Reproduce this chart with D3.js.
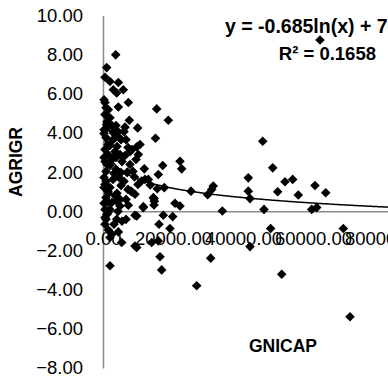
<!DOCTYPE html>
<html>
<head>
<meta charset="utf-8">
<script src="https://cdn.jsdelivr.net/npm/d3@7"></script>
<style>
  body { margin: 0; background: #fff; }
  svg { display: block; }
</style>
</head>
<body>
<svg id="chart"></svg>
<script>
// scatter values (GNICAP, AGRIGR), same order
const gnicap = [
    3630, 1050, 570, 2000, 4380, 2950, 5800, 3900, 570, 7240, 4380, 1520, 15340, 18660, 7520, 1050,
    9900, 15000, 9630, 10090, 17060, 22000, 22480, 11800, 15800, 12940, 8000, 17500, 25140, 14370,
    14660, 20570, 22000, 11500, 9140, 17230, 1520, 1520, 8200, 3900, 4860, 7240, 11520, 14570, 14570,
    1140, 570, 3900, 6570, 9630, 19910, 16000, 19140, 1520, 4380, 2000, 5340, 9140, 9630, 13910, 15800,
    16290, 16770, 2000, 26770, 30770, 42000, 51060, 70570, 34090, 46000, 59630, 61060, 47900, 68660,
    29900, 41510, 42000, 49900, 55800, 63630, 45630, 48490, 41510, 52000, 54200, 60570, 31500, 31060,
    62000, 12000,
    290, 860, 570, 1140, 290, 860, 1430, 570, 290, 1140, 860, 290, 570, 1430, 860, 290, 570, 1140,
    860, 290, 1430, 570, 860, 1140, 290, 1430, 570,
    2000, 2570, 3140, 2860, 2000, 3430, 2570, 2000, 3140, 2860, 2000, 3430, 2570, 2000, 3140, 2570,
    3430, 2860,
    3710, 4290, 5140, 4000, 4860, 5430, 3710, 4570, 5140, 4000, 4860, 4290, 5430, 4570, 3710, 5140,
    6000, 6570, 7140, 6290, 7710, 6860, 6000, 7140, 6570, 7710, 6290,
    8290, 9430, 8570, 10000, 9140, 10570,
    7000, 9000, 11000, 13500, 15500
];
const agrigr = [
    7.99, 7.34, 6.85, 6.63, 6.58, 6.21, 6.21, 6.04, 5.56, 5.56, 5.33, 5.19, 5.23, 4.65, 4.65, 4.43,
    4.26, 3.73, 3.29, 2.90, 2.34, 2.56, 2.17, 2.17, 1.88, 1.63, 1.03, 1.21, 1.03, 0.70,
    0.52, 0.41, 0.27, 0.19, -0.20, -0.20, -0.04, 0.92, 1.00, 0.52, 0.27, 0.31, 0.24, 0.66, 0.32,
    -0.15, -0.32, -0.41, -0.41, -0.24, -0.27, -0.66, -0.88, -0.95, -1.05, -1.34, -1.59, -1.77, -1.85, -1.59, -1.51,
    -2.32, -2.99, -2.78, -3.80, -2.39, -1.80, -3.21, -5.38, 0.02, 0.10, 0.10, 0.19, -0.88, -0.88,
    0.85, 1.03, 0.65, 1.00, 0.83, 0.95, 3.58, 2.22, 1.71, 1.51, 1.63, 1.32, 1.29, 1.12,
    8.75, 1.63,
    5.70, 5.29, 4.94, 4.58, 4.17, 3.77, 3.41, 3.16, 2.75, 2.39, 2.04, 1.73, 1.37, 1.02, 0.71, 0.41, 0.10, -0.15,
    -0.41, 3.97, 2.90, 2.54, 1.53, 4.26, 1.22, 0.46, -0.66,
    4.78, 4.38, 3.97, 3.66, 3.36, 3.05, 2.65, 2.34, 1.93, 1.63, 1.22, 0.81, 0.46, 0.10, -0.66, -1.17,
    2.85, 4.07,
    4.38, 4.07, 3.66, 3.31, 2.90, 2.54, 2.14, 1.73, 1.32, 0.92, 0.61, 0.00, -0.51, 3.77, 2.75, 1.98,
    4.07, 3.66, 3.26, 2.85, 2.39, 1.98, 1.53, 1.12, 0.61, 3.05, 4.30,
    3.16, 2.65, 2.04, 1.37, 0.87, 3.41,
    2.00, 1.75, 1.55, 1.35, 1.15
];
const xTicks = [0, 20000, 40000, 60000, 80000];
const yTicks = [-8, -6, -4, -2, 0, 2, 4, 6, 8, 10];

// logarithmic trendline as printed in the chart
const trendSlope = -0.685;
const trendIntercept = 7.9598;
const trendR2 = 0.1658;

const width = 388;
const height = 379;

const svg = d3.select('#chart')
    .attr('width', width)
    .attr('height', height);

const x = d3.scaleLinear().domain([0, 100000]).range([103, 453]);
const y = d3.scaleLinear().domain([-8, 10]).range([368, 15.5]);

const fmt = d3.format('.2f');
const font = '"Liberation Sans", Arial, sans-serif';

// y axis
const yAxis = svg.append('g')
    .attr('transform', `translate(${x(0)},0)`)
    .call(d3.axisLeft(y).tickValues(yTicks).tickFormat(fmt).tickSize(0).tickPadding(20));

// x axis crosses at y = 0
const xAxis = svg.append('g')
    .attr('transform', `translate(0,${y(0)})`)
    .call(d3.axisBottom(x).tickValues(xTicks).tickFormat(fmt).tickSize(0).tickPadding(21));

[xAxis, yAxis].forEach(g => {
    g.select('.domain').attr('stroke', '#898989').attr('stroke-width', 1.5);
    g.selectAll('text')
        .attr('fill', '#000')
        .style('font-family', font)
        .style('font-size', '18.5px');
});

// points
const points = gnicap.map((g, i) => ({ g: g, a: agrigr[i] }));
const diamond = d3.symbol().type(d3.symbolSquare).size(46);

svg.append('g')
    .selectAll('path')
    .data(points)
    .enter()
    .append('path')
        .attr('d', diamond)
        .attr('transform', d => `translate(${x(d.g)},${y(d.a)}) rotate(45)`)
        .attr('fill', '#000');

// trendline
const trendX = d3.range(d3.min(gnicap), 100000, 250);
const line = d3.line()
    .x(d => x(d))
    .y(d => y(trendSlope * Math.log(d) + trendIntercept));

svg.append('path')
    .datum(trendX)
    .attr('d', line)
    .attr('fill', 'none')
    .attr('stroke', '#000')
    .attr('stroke-width', 1.5);

// trendline label
svg.append('text')
    .attr('x', 225)
    .attr('y', 33)
    .style('font-family', font)
    .style('font-size', '19.5px')
    .style('font-weight', 'bold')
    .text(`y = ${trendSlope}ln(x) + ${trendIntercept}`);

svg.append('text')
    .attr('x', 376)
    .attr('y', 60)
    .attr('text-anchor', 'end')
    .style('font-family', font)
    .style('font-size', '18.5px')
    .style('font-weight', 'bold')
    .text(`R² = ${trendR2}`);

// axis titles
svg.append('text')
    .attr('transform', 'translate(22,162) rotate(-90)')
    .attr('text-anchor', 'middle')
    .style('font-family', font)
    .style('font-size', '17.5px')
    .style('font-weight', 'bold')
    .text('AGRIGR');

svg.append('text')
    .attr('x', 283)
    .attr('y', 352)
    .attr('text-anchor', 'middle')
    .style('font-family', font)
    .style('font-size', '17.5px')
    .style('font-weight', 'bold')
    .text('GNICAP');
</script>
</body>
</html>
